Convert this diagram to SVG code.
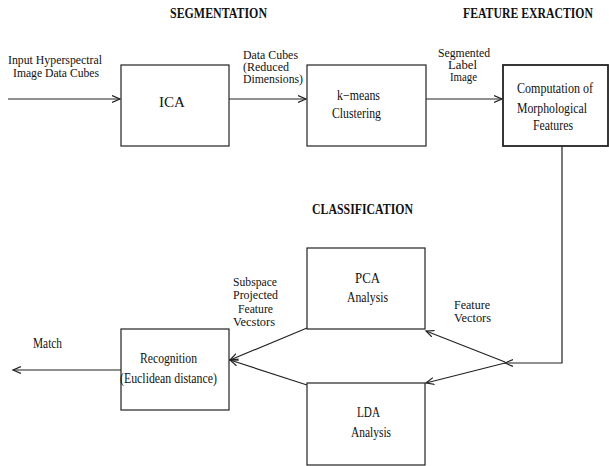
<svg xmlns="http://www.w3.org/2000/svg" width="609" height="466" viewBox="0 0 609 466">
<style>
.box{fill:#fff;stroke:#222;stroke-width:1.2}
.thick{stroke-width:1.8}
.ln{fill:none;stroke:#222;stroke-width:1.2}
text{font-family:"Liberation Serif","Times New Roman",serif;font-size:14px;fill:#111}
.s{font-size:13px}
.t{font-weight:bold}
</style>
<defs>
<marker id="ah" markerUnits="userSpaceOnUse" markerWidth="12" markerHeight="10" refX="8" refY="4" orient="auto">
<path d="M0,0.5 L8,4 L0,7.5" fill="none" stroke="#222" stroke-width="1.2"/>
</marker>
</defs>
<g id="titles">
<text class="t" x="170" y="18" textLength="97" lengthAdjust="spacingAndGlyphs">SEGMENTATION</text>
<text class="t" x="463" y="18" textLength="130" lengthAdjust="spacingAndGlyphs">FEATURE EXRACTION</text>
<text class="t" x="312" y="214" textLength="101" lengthAdjust="spacingAndGlyphs">CLASSIFICATION</text>
</g>
<g id="connectors">
<line class="ln" x1="8" y1="99" x2="120" y2="99" marker-end="url(#ah)"/>
<line class="ln" x1="229" y1="99" x2="306" y2="99" marker-end="url(#ah)"/>
<line class="ln" x1="426" y1="99" x2="502" y2="99" marker-end="url(#ah)"/>
<polyline class="ln" points="562,146 562,363 505,363" marker-end="url(#ah)"/>
<line class="ln" x1="505" y1="362" x2="426" y2="331" marker-end="url(#ah)"/>
<line class="ln" x1="505" y1="363" x2="426" y2="383" marker-end="url(#ah)"/>
<line class="ln" x1="307" y1="328" x2="230" y2="360" marker-end="url(#ah)"/>
<line class="ln" x1="307" y1="385" x2="230" y2="360" marker-end="url(#ah)"/>
<line class="ln" x1="121" y1="370" x2="13" y2="370" marker-end="url(#ah)"/>
<text class="s" x="8" y="64" textLength="94" lengthAdjust="spacingAndGlyphs">Input Hyperspectral</text>
<text class="s" x="13" y="77" textLength="86" lengthAdjust="spacingAndGlyphs">Image Data Cubes</text>
<text class="s" x="243" y="59" textLength="55" lengthAdjust="spacingAndGlyphs">Data Cubes</text>
<text class="s" x="243" y="71" textLength="46" lengthAdjust="spacingAndGlyphs">(Reduced</text>
<text class="s" x="243" y="83" textLength="60" lengthAdjust="spacingAndGlyphs">Dimensions)</text>
<text class="s" x="438" y="57" textLength="52" lengthAdjust="spacingAndGlyphs">Segmented</text>
<text class="s" x="448" y="69" textLength="29" lengthAdjust="spacingAndGlyphs">Label</text>
<text class="s" x="450" y="81" textLength="27" lengthAdjust="spacingAndGlyphs">Image</text>
<text class="s" x="454" y="309" textLength="36" lengthAdjust="spacingAndGlyphs">Feature</text>
<text class="s" x="454" y="322" textLength="37" lengthAdjust="spacingAndGlyphs">Vectors</text>
<text class="s" x="233" y="286" textLength="44" lengthAdjust="spacingAndGlyphs">Subspace</text>
<text class="s" x="233" y="299" textLength="45" lengthAdjust="spacingAndGlyphs">Projected</text>
<text class="s" x="238" y="313" textLength="35" lengthAdjust="spacingAndGlyphs">Feature</text>
<text class="s" x="233" y="326" textLength="42" lengthAdjust="spacingAndGlyphs">Vecstors</text>
<text x="33" y="348" textLength="29" lengthAdjust="spacingAndGlyphs">Match</text>
</g>
<g id="ica">
<rect class="box" x="121" y="65" width="108" height="81"/>
<text x="159" y="107" textLength="26" lengthAdjust="spacingAndGlyphs">ICA</text>
</g>
<g id="kmeans">
<rect class="box" x="307" y="65" width="119" height="81"/>
<text x="337" y="100" textLength="43" lengthAdjust="spacingAndGlyphs">k−means</text>
<text x="332" y="118" textLength="49" lengthAdjust="spacingAndGlyphs">Clustering</text>
</g>
<g id="computation">
<rect class="box thick" x="503" y="65" width="105" height="81"/>
<text x="517" y="93" textLength="76" lengthAdjust="spacingAndGlyphs">Computation of</text>
<text x="517" y="113" textLength="70" lengthAdjust="spacingAndGlyphs">Morphological</text>
<text x="533" y="130" textLength="40" lengthAdjust="spacingAndGlyphs">Features</text>
</g>
<g id="pca">
<rect class="box" x="307" y="248" width="118" height="81"/>
<text x="355" y="283" textLength="25" lengthAdjust="spacingAndGlyphs">PCA</text>
<text x="347" y="302" textLength="41" lengthAdjust="spacingAndGlyphs">Analysis</text>
</g>
<g id="lda">
<rect class="box" x="307" y="383" width="118" height="82"/>
<text x="357" y="417" textLength="23" lengthAdjust="spacingAndGlyphs">LDA</text>
<text x="351" y="437" textLength="40" lengthAdjust="spacingAndGlyphs">Analysis</text>
</g>
<g id="recognition">
<rect class="box" x="121" y="329" width="108" height="81"/>
<text x="140" y="363" textLength="57" lengthAdjust="spacingAndGlyphs">Recognition</text>
<text x="120" y="383" textLength="97" lengthAdjust="spacingAndGlyphs">(Euclidean distance)</text>
</g>
</svg>
